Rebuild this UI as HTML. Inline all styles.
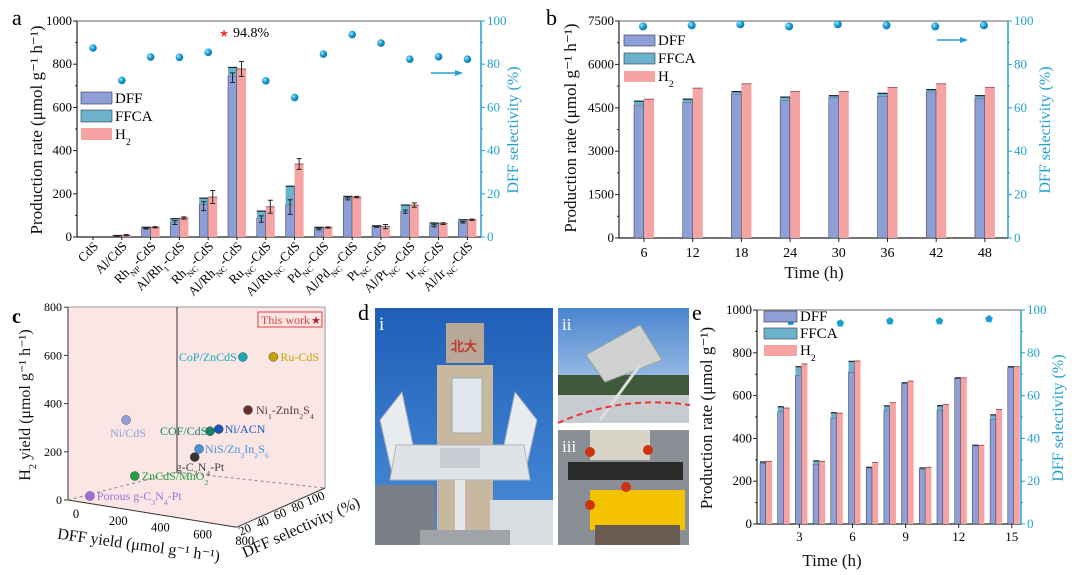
<!DOCTYPE html>
<html><head><meta charset="utf-8">
<style>
html,body{margin:0;padding:0;background:#fff;}
svg{display:block;font-family:"Liberation Serif",serif;}
</style></head>
<body>
<svg id="fig" width="1080" height="575" viewBox="0 0 1080 575" xmlns="http://www.w3.org/2000/svg">
<defs>
<linearGradient id="sky" x1="0" y1="0" x2="0" y2="1"><stop offset="0" stop-color="#1f5fb8"/><stop offset="1" stop-color="#4a8fd8"/></linearGradient>
<linearGradient id="sky2" x1="0" y1="0" x2="0" y2="1"><stop offset="0" stop-color="#4a86d0"/><stop offset="1" stop-color="#c8daf0"/></linearGradient>
<radialGradient id="ball" cx="0.35" cy="0.35" r="0.7"><stop offset="0" stop-color="#9fe6ff"/><stop offset="0.5" stop-color="#1ea0d6"/><stop offset="1" stop-color="#0a6f9e"/></radialGradient>
</defs>
<text x="12" y="25" font-size="22">a</text>
<text x="546" y="25" font-size="22">b</text>
<text x="12" y="323" font-size="20" font-weight="bold">c</text>
<text x="358" y="320" font-size="22">d</text>
<text x="692" y="320" font-size="22">e</text>

<g>
<rect x="375" y="308" width="178" height="237" fill="url(#sky)"/>
<rect x="446" y="323" width="38" height="40" fill="#b8a898"/>
<text x="451" y="351" font-size="13" fill="#c0392b" font-weight="bold">北大</text>
<rect x="437" y="365" width="56" height="170" fill="#c9b8a0"/>
<rect x="452" y="378" width="30" height="55" fill="#dfe6ee" stroke="#9aa" stroke-width="1"/>
<rect x="375" y="485" width="60" height="60" fill="#7a7f86"/>
<rect x="490" y="500" width="63" height="45" fill="#d8dde2"/>
<polygon points="380,420 402,392 413,445 393,478" fill="#e8ecef" stroke="#aab" />
<polygon points="537,420 515,392 504,445 524,478" fill="#e8ecef" stroke="#aab" />
<polygon points="396,445 524,445 530,480 390,480" fill="#dfe3e6" stroke="#b0b6bb"/>
<rect x="440" y="448" width="40" height="20" fill="#c8ced4"/>
<rect x="455" y="480" width="10" height="65" fill="#e4e8ea"/>
<rect x="420" y="530" width="90" height="15" fill="#a0a4a8"/>
</g>
<g>
<rect x="558" y="308" width="131" height="115" fill="url(#sky2)"/>
<rect x="558" y="375" width="131" height="20" fill="#3e5a3a"/>
<rect x="558" y="395" width="131" height="28" fill="#c8ccd0"/>
<polygon points="586,355 640,325 662,360 605,382" fill="#d0d2d2" stroke="#9a9" />
<line x1="600" y1="420" x2="640" y2="365" stroke="#ddd" stroke-width="3"/>
<path d="M558,423 Q620,395 690,405" stroke="#e33" stroke-width="2" stroke-dasharray="6,4" fill="none"/>
<text x="562" y="330" font-size="17" fill="#fff">ii</text>
</g>
<g>
<rect x="558" y="430" width="131" height="115" fill="#8a8f95"/>
<rect x="590" y="430" width="60" height="30" fill="#d8d4c8"/>
<rect x="568" y="462" width="115" height="18" fill="#2a2a2a"/>
<rect x="590" y="490" width="95" height="40" fill="#f5c200"/>
<rect x="595" y="525" width="85" height="20" fill="#6a5a50"/>
<circle cx="590" cy="452" r="5" fill="#c31"/><circle cx="648" cy="450" r="5" fill="#c31"/><circle cx="590" cy="505" r="5" fill="#c31"/><circle cx="626" cy="487" r="5" fill="#c31"/>
<text x="562" y="452" font-size="17" fill="#fff">iii</text>
</g>
<text x="379" y="330" font-size="19" fill="#fff">i</text>
</svg>

<script>
const catsA = ["CdS","Al/CdS","Rh_{NP}-CdS","Al/Rh_{1}-CdS","Rh_{NC}-CdS","Al/Rh_{NC}-CdS","Ru_{NC}-CdS","Al/Ru_{NC}-CdS","Pd_{NC}-CdS","Al/Pd_{NC}-CdS","Pt_{NC}-CdS","Al/Pt_{NC}-CdS","Ir_{NC}-CdS","Al/Ir_{NC}-CdS"];
const dffA  = [0,5,40,70,150,745,88,150,38,180,48,120,55,70];
const ffcaA = [0,2,5,15,30,40,32,85,7,8,4,28,10,10];
const h2A   = [0,8,45,88,185,778,140,338,44,185,48,148,62,80];
const errDffA = [0,2,3,12,28,30,20,45,5,8,3,10,8,5];
const errH2A  = [0,3,3,5,30,35,30,25,3,3,10,10,4,3];
const selA  = [87.5,72.5,83.3,83.2,85.5,null,72.3,64.6,84.7,93.7,89.8,82.3,83.5,82.3];
const yTicksA = [0,200,400,600,800,1000];
const rTicks = [0,20,40,60,80,100];
const catsB = [6,12,18,24,30,36,42,48];
const dffB  = [4600,4700,4980,4750,4850,4900,5050,4830];
const ffcaB = [130,100,80,120,70,100,80,90];
const h2B   = [4800,5180,5330,5060,5060,5200,5330,5200];
const selB  = [97.5,98,98.5,97.5,98.5,98,97.5,98];
const yTicksB = [0,1500,3000,4500,6000,7500];
const catsE = [1,2,3,4,5,6,7,8,9,10,11,12,13,14,15];
const dffE  = [285,525,695,280,495,710,262,530,655,255,530,680,365,490,730];
const ffcaE = [5,23,40,15,25,50,3,22,5,7,23,3,3,20,5];
const h2E   = [293,542,748,293,518,762,288,567,668,265,558,683,368,535,735];
const selTimeE = [2.4,5.2,8,10.8,13.6];
const selE  = [94.5,93.8,94.8,94.8,95.8];
const yTicksE = [0,200,400,600,800,1000];
const xTicksE = [3,6,9,12,15];
const catalystsC = ["CoP/ZnCdS","Ru-CdS","Ni_{1}-ZnIn_{2}S_{4}","Ni/CdS","COF/CdS","Ni/ACN","NiS/Zn_{3}In_{2}S_{6}","g-C_{3}N_{4}-Pt","ZnCdS/MnO_{2}","Porous g-C_{3}N_{4}-Pt"];
const dffC = [620,744,657,217,502,535,471,463,233,83];
const selC = [50,55,47,14,41,43,36,33,20,5];
const h2C  = [600,610,390,340,290,300,220,190,100,20];
const h2TicksC = [0,200,400,600,800];
const dffTicksC = [0,200,400,600,800];
const selTicksC = [20,40,60,80,100];

const NS="http://www.w3.org/2000/svg";
const svg=document.getElementById('fig');
function mk(tag,attrs,parent){const e=document.createElementNS(NS,tag);for(const k in attrs)e.setAttribute(k,attrs[k]);(parent||svg).appendChild(e);return e;}
function richText(t,str,size){
  const parts=str.split(/_\{([^}]*)\}/);
  parts.forEach((p,i)=>{if(!p)return;const s=mk('tspan',{},t);s.textContent=p;
    if(i%2===1){s.setAttribute('font-size',size*0.65);s.setAttribute('baseline-shift','sub');}});
}
const CY="#22a0d0", DFF="#8e9fd8", FFCA="#6cb2cc", H2="#f6a3a3";

function frame(P,name){
  const g=mk('g',{});
  
  
  mk('line',{x1:P.x0,y1:P.yT,x2:P.x1,y2:P.yT,stroke:'#666','stroke-width':1},g);
  mk('line',{x1:P.x0,y1:P.yT,x2:P.x0,y2:P.yB,stroke:'#222','stroke-width':1.2},g);
  mk('line',{x1:P.x0,y1:P.yB,x2:P.x1,y2:P.yB,stroke:'#222','stroke-width':1.2},g);
  mk('line',{x1:P.x1,y1:P.yT,x2:P.x1,y2:P.yB,stroke:CY,'stroke-width':1.5},g);
  return g;
}
function yL(P,v){return P.yB-v/P.ymax*(P.yB-P.yT);}
function yR(P,v){return P.yB-v/100*(P.yB-P.yT);}
function leftTicks(P,ticks,fs){
  for(let i=0;i<ticks.length;i++){const y=yL(P,ticks[i]);
    const l=mk('line',{x1:P.x0-4,y1:y,x2:P.x0,y2:y,stroke:'#222'});
    
    const t=mk('text',{x:P.x0-5,y:y+4,'font-size':fs,'text-anchor':'end'});t.textContent=ticks[i];
    
    if(i<ticks.length-1){const ym=yL(P,(ticks[i]+ticks[i+1])/2);mk('line',{x1:P.x0-2,y1:ym,x2:P.x0,y2:ym,stroke:'#222'});}
  }
}
function rightTicks(P,fs){
  for(let i=0;i<rTicks.length;i++){const y=yR(P,rTicks[i]);
    mk('line',{x1:P.x1,y1:y,x2:P.x1+4,y2:y,stroke:CY});
    const t=mk('text',{x:P.x1+6,y:y+4,'font-size':fs,fill:CY});t.textContent=rTicks[i];
    
    if(i<rTicks.length-1){const ym=yR(P,rTicks[i]+10);mk('line',{x1:P.x1,y1:ym,x2:P.x1+2,y2:ym,stroke:CY});}
  }
}
function vtitle(x,y,str,fs,color,name,rot){
  const t=mk('text',{x:x,y:y,'font-size':fs,'text-anchor':'middle',fill:color,transform:`rotate(${rot} ${x} ${y})`});
  richText(t,str,fs);
  
  return t;
}
function bars(P,n,cx,w,dff,ffca,h2,pre){
  for(let i=0;i<n;i++){const c=cx(i);
    const r1=mk('rect',{x:c-w,y:yL(P,dff[i]),width:w,height:P.yB-yL(P,dff[i]),fill:DFF,stroke:'#333','stroke-width':0.5});
    
    const top=dff[i]+ffca[i];
    const r2=mk('rect',{x:c-w,y:yL(P,top),width:w,height:yL(P,dff[i])-yL(P,top),fill:FFCA});
    
    if(dff[i]>0)mk('line',{x1:c-w,y1:yL(P,top),x2:c,y2:yL(P,top),stroke:'#223','stroke-width':1.2});
    if(dff[i]>0)mk('line',{x1:c,y1:yL(P,top),x2:c,y2:P.yB,stroke:'#223','stroke-width':0.8});
    const r3=mk('rect',{x:c,y:yL(P,h2[i]),width:w,height:P.yB-yL(P,h2[i]),fill:H2});
    
    if(h2[i]>0)mk('line',{x1:c,y1:yL(P,h2[i]),x2:c+w,y2:yL(P,h2[i]),stroke:'#844','stroke-width':0.8});
  }
}
function legend(x,y,gap,w,h,fs,name){
  const items=[["DFF",DFF],["FFCA",FFCA],["H_{2}",H2]];
  items.forEach((it,i)=>{
    const r=mk('rect',{x:x,y:y+i*gap,width:w,height:h,fill:it[1],stroke:i<2?'#334':'none','stroke-width':0.6});
    
    const t=mk('text',{x:x+w+3,y:y+i*gap+h-1,'font-size':fs});richText(t,it[0],fs);
    
  });
}
function dot(x,y,r,name){const c=mk('circle',{cx:x,cy:y,r:r,fill:'url(#ball)'});
  }

const A={x0:77,x1:481,yT:21,yB:237,ymax:1000};
const cxA=i=>93+i*28.8;
frame(A,'panel-a-axes');
leftTicks(A,yTicksA,13);rightTicks(A,13);
bars(A,catsA.length,cxA,9,dffA,ffcaA,h2A,'a-');
for(let i=0;i<catsA.length;i++){const c=cxA(i);
  if(errDffA[i]>0){const t=yL(A,dffA[i]+errDffA[i]/2),b=yL(A,dffA[i]-errDffA[i]);mk('path',{d:`M${c-7},${t}h5M${c-4.5},${t}V${b}M${c-7},${b}h5`,stroke:'#222',fill:'none'});}
  if(errH2A[i]>0){const t=yL(A,h2A[i]+errH2A[i]),b=yL(A,h2A[i]-errH2A[i]);mk('path',{d:`M${c+2},${t}h5M${c+4.5},${t}V${b}M${c+2},${b}h5`,stroke:'#222',fill:'none'});}
  mk('line',{x1:c,y1:A.yB,x2:c,y2:A.yB+3,stroke:'#222'});
  const t=mk('text',{x:c+6,y:A.yB+10,'font-size':13,'text-anchor':'end',transform:`rotate(-45 ${c+6} ${A.yB+10})`});
  richText(t,catsA[i],13);
  
  if(selA[i]!==null)dot(c,yR(A,selA[i]),3.8,'a-selectivity-point');
}
{const t=mk('text',{x:233,y:37,'font-size':14});t.textContent='94.8%';
 
 const s=mk('text',{x:229,y:37,'font-size':11,fill:'#e33','text-anchor':'end'});s.textContent='★';
 }
mk('path',{d:'M431,73h30',stroke:CY,'stroke-width':1.5});mk('path',{d:'M463,73l-8,-3v6z',fill:CY});
legend(81,92,18,31,12,15,'a-legend');
vtitle(42,130,'Production rate (μmol g⁻¹ h⁻¹)',17,'#111','a-y-axis-title',-90);
vtitle(518,130,'DFF selectivity (%)',16,CY,'a-right-axis-title',-90);

const B={x0:619,x1:1008,yT:21,yB:238,ymax:7500};
const cxB=i=>644+i*48.7;
frame(B,'panel-b-axes');
leftTicks(B,yTicksB,13);rightTicks(B,13);
bars(B,catsB.length,cxB,10,dffB,ffcaB,h2B,'b-');
for(let i=0;i<catsB.length;i++){const c=cxB(i);
  mk('line',{x1:c,y1:B.yB,x2:c,y2:B.yB+4,stroke:'#222'});
  const t=mk('text',{x:c,y:B.yB+19,'font-size':14,'text-anchor':'middle'});t.textContent=catsB[i];
  
  dot(c-1,yR(B,selB[i]),4,'b-selectivity-point');
}
mk('path',{d:'M937,40h29',stroke:CY,'stroke-width':1.5});mk('path',{d:'M968,40l-8,-3v6z',fill:CY});
legend(624,35,18,31,11,15,'b-legend');
vtitle(814,278,'Time (h)',17,'#111','b-x-axis-title',0);
vtitle(576,128,'Production rate (μmol g⁻¹ h⁻¹)',17,'#111','b-y-axis-title',-90);
vtitle(1050,130,'DFF selectivity (%)',16,CY,'b-right-axis-title',-90);

const E={x0:757,x1:1021,yT:310,yB:524,ymax:1000};
const cxE=t=>766+(t-1)*17.7;
frame(E,'panel-e-axes');
leftTicks(E,yTicksE,13);rightTicks(E,13);
bars(E,catsE.length,i=>cxE(catsE[i]),6,dffE,ffcaE,h2E,'e-');
xTicksE.forEach(v=>{const x=cxE(v)-2;mk('line',{x1:x,y1:E.yB,x2:x,y2:E.yB+4,stroke:'#222'});
  const t=mk('text',{x:x,y:E.yB+17,'font-size':13,'text-anchor':'middle'});t.textContent=v;
  });
for(let i=0;i<selE.length;i++){const x=cxE(selTimeE[i]),y=yR(E,selE[i]);let p='';
  for(let k=0;k<5;k++){const a=-Math.PI/2+k*2*Math.PI/5;p+=(x+4*Math.cos(a))+','+(y+4*Math.sin(a))+' ';}
  const pg=mk('polygon',{points:p,fill:'#1a9fd2'});
  }
legend(764,311,17,33,11,15,'e-legend');
vtitle(832,566,'Time (h)',17,'#111','e-x-axis-title',0);
vtitle(712,418,'Production rate (μmol g⁻¹)',17,'#111','e-y-axis-title',-90);
vtitle(1063,418,'DFF selectivity (%)',16,CY,'e-right-axis-title',-90);

const pX=(d,s)=>68+d*0.211+s*0.88;
const pY=(d,s,h)=>500+d*0.034-s*0.39-h*0.241;
{const g=mk('g',{});
 mk('polygon',{points:`68,307 325,307 325,488 ${pX(800,0)},${pY(800,0,0)} 68,500`,fill:'#fbe6e6'},g);
 mk('line',{x1:68,y1:307,x2:68,y2:500,stroke:'#333'},g);
 mk('line',{x1:68,y1:307,x2:325,y2:307,stroke:'#999'},g);
 mk('line',{x1:325,y1:307,x2:325,y2:488,stroke:'#999'},g);
 mk('line',{x1:177,y1:307,x2:177,y2:472,stroke:'#333'},g);
 mk('line',{x1:68,y1:500,x2:pX(800,0),y2:pY(800,0,0),stroke:'#333'},g);
 mk('line',{x1:pX(800,0),y1:pY(800,0,0),x2:325,y2:488,stroke:'#333'},g);
 mk('line',{x1:68,y1:500,x2:177,y2:472,stroke:'#888','stroke-dasharray':'3,3'},g);
 mk('line',{x1:177,y1:472,x2:325,y2:488,stroke:'#888','stroke-dasharray':'3,3'},g);}
h2TicksC.forEach(v=>{const y=500-v*0.241;mk('line',{x1:64,y1:y,x2:68,y2:y,stroke:'#333'});
  const t=mk('text',{x:62,y:y+4,'font-size':12,'text-anchor':'end'});t.textContent=v;
  });
dffTicksC.forEach(v=>{const x=pX(v,0)+8,y=pY(v,0,0)+18;
  const t=mk('text',{x:x,y:y,'font-size':12.5,'text-anchor':'middle'});t.textContent=v;
  });
selTicksC.forEach(v=>{const x=pX(800,v)-8,y=pY(800,v,0)+14;
  const t=mk('text',{x:x,y:y,'font-size':12.5,'text-anchor':'middle',transform:`rotate(-22 ${x} ${y})`});t.textContent=v;
  });
vtitle(138,550,'DFF yield (μmol g⁻¹ h⁻¹)',16,'#111','c-x-axis-title',8);
vtitle(303,532,'DFF selectivity (%)',16,'#111','c-z-axis-title',-24);
vtitle(30,405,'H_{2} yield (μmol g⁻¹ h⁻¹)',16,'#111','c-y-axis-title',-90);
const colC=["#19a9b5","#c9a100","#6a3030","#8da0d8","#17806a","#1a55b8","#4a92d5","#333","#20a040","#a070d8"];
const labOff=[[-64,4,'#19a9b5'],[7,4,'#c9a100'],[8,4,'#6a3030'],[-16,17,'#8da0d8'],[-50,4,'#17806a'],[6,4,'#1a55b8'],[6,4,'#4a92d5'],[-19,14,'#444'],[7,4,'#20a040'],[7,4,'#a070d8']];
for(let i=0;i<catalystsC.length;i++){const x=pX(dffC[i],selC[i]),y=pY(dffC[i],selC[i],h2C[i]);
  const c=mk('circle',{cx:x,cy:y,r:4.5,fill:colC[i],stroke:'#333','stroke-width':0.4});
  
  const t=mk('text',{x:x+labOff[i][0],y:y+labOff[i][1],'font-size':12,fill:labOff[i][2]});richText(t,catalystsC[i],12);
  }
{const r=mk('rect',{x:258,y:312,width:64,height:15,fill:'none',stroke:'#e04040'});
 
 const t=mk('text',{x:261,y:324,'font-size':12,fill:'#e04040'});t.textContent='This work';
 
 const s=mk('text',{x:311,y:324,'font-size':11,fill:'#c02020'});s.textContent='★';
 }
</script>
</body></html>
